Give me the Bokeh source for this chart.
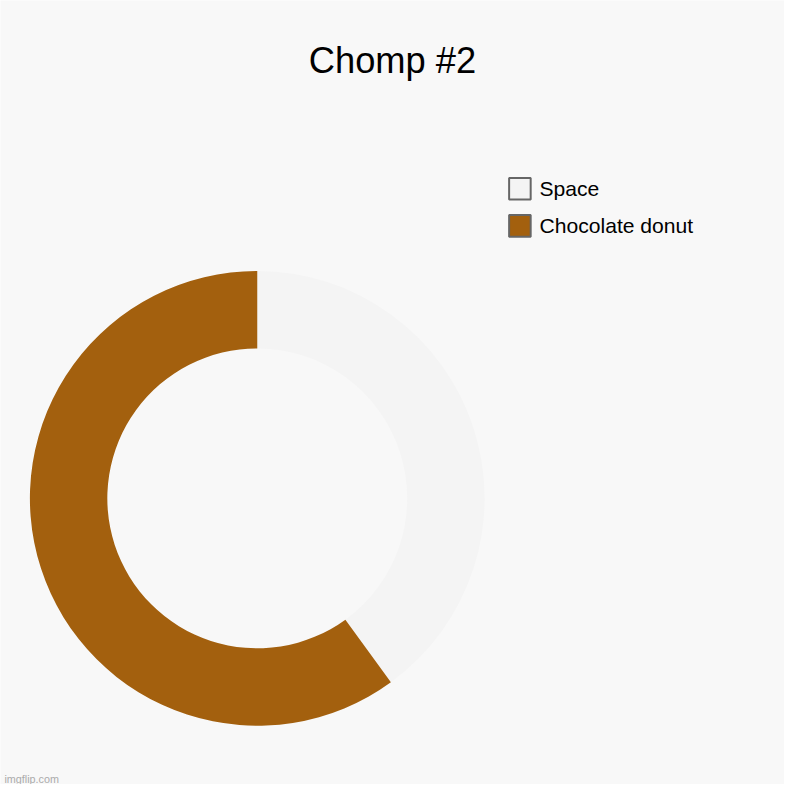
import numpy as np
from bokeh.plotting import figure
from bokeh.models import Range1d, ColumnDataSource
from bokeh.core.properties import value
from bokeh.embed import file_html
from bokeh.resources import INLINE

# Data
categories = ["Space", "Chocolate donut"]
values = [40, 60]
colors = ["#F4F4F4", "#A3600E"]
title_text = "Chomp #2"
watermark = "imgflip.com"

W = H = 784
S = W / 800.0  # scale of reference pixels to screen pixels
p = figure(width=W, height=H, output_backend="svg", toolbar_location=None,
           x_range=Range1d(0, 800), y_range=Range1d(0, 800),
           min_border=0, outline_line_color=None)
p.axis.visible = False
p.grid.visible = False
p.background_fill_color = "#F8F8F8"
p.border_fill_color = "#F8F8F8"

def Y(py):
    return 800 - py

def fs(px):
    return "%.1fpx" % (px * S)

# Donut: clockwise from 12 o'clock
total = float(sum(values))
fr = np.array(values) / total
cum = np.concatenate([[0], np.cumsum(fr)])
ends = np.pi / 2 - 2 * np.pi * cum[:-1]
starts = np.pi / 2 - 2 * np.pi * cum[1:]
src = ColumnDataSource(dict(start=starts, end=ends, color=colors, cat=categories))
p.annular_wedge(x=262, y=Y(508), inner_radius=153, outer_radius=232,
                start_angle="start", end_angle="end", fill_color="color",
                line_color=None, source=src)

# Title
p.text(x=[400], y=[Y(61)], text=[title_text], text_align="center",
       text_baseline="alphabetic", text_font=value("Liberation Sans"),
       text_font_size=fs(37), text_color="#000000")

# Legend (manual)
leg_y = [192, 230]
p.rect(x=[530, 530], y=[Y(v) for v in leg_y], width=22, height=22,
       fill_color=colors, line_color="#666666", line_width=2)
p.text(x=[550, 550], y=[Y(v) for v in leg_y], text=categories,
       text_align="left", text_baseline="middle",
       text_font=value("Liberation Sans"), text_font_size=fs(21.5),
       text_color="#000000")

# Watermark
p.text(x=[4], y=[Y(794)], text=[watermark], text_align="left",
       text_baseline="alphabetic", text_font=value("Liberation Sans"),
       text_font_size=fs(11), text_color="#ABABAB")

open("out.html", "w").write(file_html(p, INLINE))
